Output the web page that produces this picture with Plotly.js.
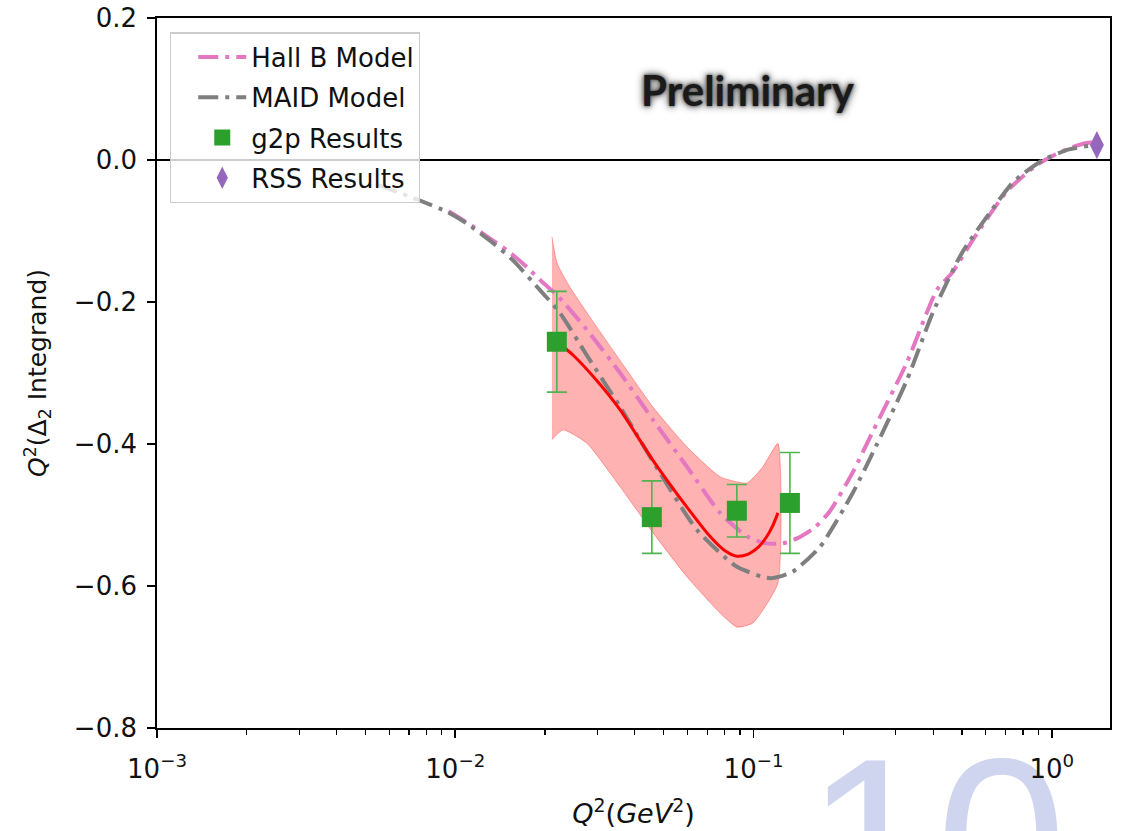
<!DOCTYPE html>
<html>
<head>
<meta charset="utf-8">
<script src="https://cdn.plot.ly/plotly-3.0.1.min.js"></script>
<style>
  html, body { margin: 0; padding: 0; background: #ffffff; }
  #chart { width: 1125px; height: 831px; }
</style>
</head>
<body>
<div id="chart"></div>
<script>
// Hall B model curve
const hallBQ2 = [0.0095, 0.0115, 0.0128, 0.0149, 0.0174, 0.0197, 0.0219, 0.0276, 0.0357, 0.0460, 0.0598, 0.0772, 0.0950, 0.110, 0.125, 0.140, 0.160, 0.180, 0.215, 0.2513, 0.3267, 0.4119, 0.4626, 0.5524, 0.7071, 0.8913, 1.032, 1.2045, 1.3628, 1.42];
const hallBVal = [-0.072, -0.094, -0.108, -0.127, -0.151, -0.173, -0.190, -0.239, -0.300, -0.366, -0.432, -0.497, -0.530, -0.540, -0.540, -0.533, -0.518, -0.495, -0.440, -0.382, -0.285, -0.183, -0.159, -0.108, -0.044, -0.007, 0.008, 0.020, 0.025, 0.025];

// MAID model curve
const maidQ2 = [0.0055, 0.0075, 0.0094, 0.0109, 0.0134, 0.0156, 0.0192, 0.0224, 0.0276, 0.0357, 0.0486, 0.0646, 0.0880, 0.1135, 0.135, 0.167, 0.215, 0.2513, 0.3267, 0.399, 0.4995, 0.625, 0.746, 0.934, 1.141, 1.332, 1.42];
const maidVal = [-0.035, -0.056, -0.073, -0.089, -0.117, -0.141, -0.183, -0.215, -0.275, -0.348, -0.441, -0.521, -0.573, -0.589, -0.580, -0.545, -0.469, -0.412, -0.310, -0.215, -0.131, -0.072, -0.030, 0.000, 0.015, 0.020, 0.021];

// g2p measurements
const g2pQ2 = [0.0219, 0.0456, 0.0879, 0.1324];
const g2pVal = [-0.256, -0.503, -0.494, -0.483];
const g2pErr = [0.071, 0.051, 0.037, 0.071];

// RSS measurement
const rssQ2 = [1.416];
const rssVal = [0.021];

// Fit through the g2p points and its uncertainty band
const fitQ2 = [0.0211, 0.0250, 0.0300, 0.0357, 0.0460, 0.0598, 0.0714, 0.0800, 0.0880, 0.0960, 0.1040, 0.1109, 0.1160, 0.1207];
const fitVal = [-0.250, -0.276, -0.312, -0.352, -0.423, -0.489, -0.530, -0.550, -0.558, -0.555, -0.545, -0.530, -0.515, -0.497];
const bandUpperQ2 = [0.02109, 0.02193, 0.02423, 0.02763, 0.03565, 0.0460, 0.0598, 0.0772, 0.0950, 0.1075, 0.1207];
const bandUpperVal = [-0.108, -0.145, -0.179, -0.215, -0.282, -0.348, -0.404, -0.446, -0.455, -0.432, -0.399];
const bandLowerQ2 = [0.02109, 0.02296, 0.02763, 0.03565, 0.0460, 0.0598, 0.0772, 0.0880, 0.0995, 0.1207];
const bandLowerVal = [-0.394, -0.380, -0.399, -0.460, -0.525, -0.587, -0.638, -0.658, -0.652, -0.596];

// Axis tick labels
const xTickVals = [0.001, 0.01, 0.1, 1];
const xTickText = ['10<sup>\u22123</sup>', '10<sup>\u22122</sup>', '10<sup>\u22121</sup>', '10<sup>0</sup>'];
const yTickVals = [-0.8, -0.6, -0.4, -0.2, 0.0, 0.2];

const FONT = 'DejaVu Sans, sans-serif';
const FS = 26;
const DASHDOT = '20px,7px,4px,7px';

// closed outline of the band: upper edge left to right, lower edge back
const bandX = bandUpperQ2.concat(bandLowerQ2.slice().reverse());
const bandY = bandUpperVal.concat(bandLowerVal.slice().reverse());

const traces = [
  {
    x: bandX, y: bandY, type: 'scatter', mode: 'lines',
    fill: 'toself', fillcolor: 'rgba(255,0,0,0.3)',
    line: {color: 'rgba(255,0,0,0.3)', width: 1, shape: 'spline', smoothing: 0.5},
    showlegend: false, hoverinfo: 'skip'
  },
  {
    x: hallBQ2, y: hallBVal, type: 'scatter', mode: 'lines', name: 'Hall B Model',
    legendgroup: 'a',
    line: {color: '#e377c2', width: 4, dash: DASHDOT, shape: 'spline', smoothing: 0.6}
  },
  {
    x: maidQ2, y: maidVal, type: 'scatter', mode: 'lines', name: 'MAID Model',
    legendgroup: 'b',
    line: {color: '#7f7f7f', width: 4, dash: DASHDOT, shape: 'spline', smoothing: 0.6}
  },
  {
    x: fitQ2, y: fitVal, type: 'scatter', mode: 'lines',
    line: {color: '#ff0000', width: 3, shape: 'spline', smoothing: 0.7},
    showlegend: false
  },
  {
    x: g2pQ2, y: g2pVal, type: 'scatter', mode: 'markers', name: 'g2p Results',
    legendgroup: 'c',
    marker: {symbol: 'square', size: 20, color: '#2ca02c'},
    error_y: {type: 'data', array: g2pErr, visible: true, color: '#4fb34f', thickness: 1.6, width: 10}
  },
  {
    x: rssQ2, y: rssVal, type: 'scatter', mode: 'markers', name: 'RSS Results',
    legendgroup: 'd',
    marker: {symbol: 'diamond-tall', size: 20, color: '#9467bd'},
    cliponaxis: false
  }
];

const layout = {
  width: 1125, height: 831,
  margin: {l: 157, r: 15, t: 18, b: 103, pad: 0},
  paper_bgcolor: '#ffffff', plot_bgcolor: '#ffffff',
  font: {family: FONT, size: FS, color: '#111111'},
  showlegend: true,
  legend: {
    x: 0.0136, y: 0.98, xanchor: 'left', yanchor: 'top',
    bgcolor: 'rgba(255,255,255,0.8)', bordercolor: '#cccccc', borderwidth: 1.3,
    font: {family: FONT, size: FS, color: '#111111'},
    tracegroupgap: 3.5, itemwidth: 48, indentation: 22, traceorder: 'grouped'
  },
  xaxis: {
    type: 'log', range: [-3, 0.195], autorange: false,
    tickmode: 'array', tickvals: xTickVals, ticktext: xTickText,
    ticks: 'outside', ticklen: 8, tickwidth: 1.6, tickcolor: '#000',
    ticklabelstandoff: 9,
    minor: {tickmode: 'linear', dtick: 'D1', ticks: 'outside', ticklen: 5, tickwidth: 1.2, tickcolor: '#000', showgrid: false},
    showgrid: false, zeroline: false,
    showline: true, linecolor: '#000', linewidth: 1.8, mirror: true,
    tickfont: {family: FONT, size: FS, color: '#111111'},
    title: {text: '<i>Q</i><sup>2</sup>(<i>GeV</i><sup>2</sup>)', font: {family: FONT, size: 27, color: '#111111'}, standoff: 21}
  },
  yaxis: {
    range: [-0.8, 0.2], autorange: false,
    tickmode: 'array', tickvals: yTickVals, tickformat: '.1f',
    ticks: 'outside', ticklen: 8, tickwidth: 1.6, tickcolor: '#000',
    ticklabelstandoff: 5,
    showgrid: false,
    zeroline: true, zerolinecolor: '#000', zerolinewidth: 2.6,
    showline: true, linecolor: '#000', linewidth: 1.8, mirror: true,
    tickfont: {family: FONT, size: FS, color: '#111111'},
    title: {text: '<i>Q</i><sup>2</sup>(\u0394<sub>2</sub> Integrand)', font: {family: FONT, size: 25, color: '#111111'}, standoff: 20}
  },
  annotations: [
    {
      xref: 'paper', yref: 'paper', x: 0.620, y: 0.8986,
      xanchor: 'center', yanchor: 'middle', showarrow: false,
      text: 'Preliminary',
      font: {family: 'Lato, sans-serif', size: 42, weight: 700, color: '#1a1a1a',
             shadow: '0px 0px 3px #444, 0px 0px 6px #666, 0px 0px 10px #888'}
    }
  ],
  shapes: [
    {
      type: 'rect', xref: 'paper', yref: 'paper', layer: 'below',
      x0: 0.6705, x1: 0.9643, y0: -0.256, y1: -0.0026,
      line: {width: 0}, fillcolor: 'rgba(0,0,0,0)',
      label: {text: '10', textposition: 'middle center', padding: 0,
              font: {family: 'Liberation Sans, Arial, sans-serif', size: 235, weight: 400, color: '#d0d5ef'}}
    }
  ]
};

Plotly.newPlot('chart', traces, layout, {displayModeBar: false, staticPlot: true});
</script>
</body>
</html>
